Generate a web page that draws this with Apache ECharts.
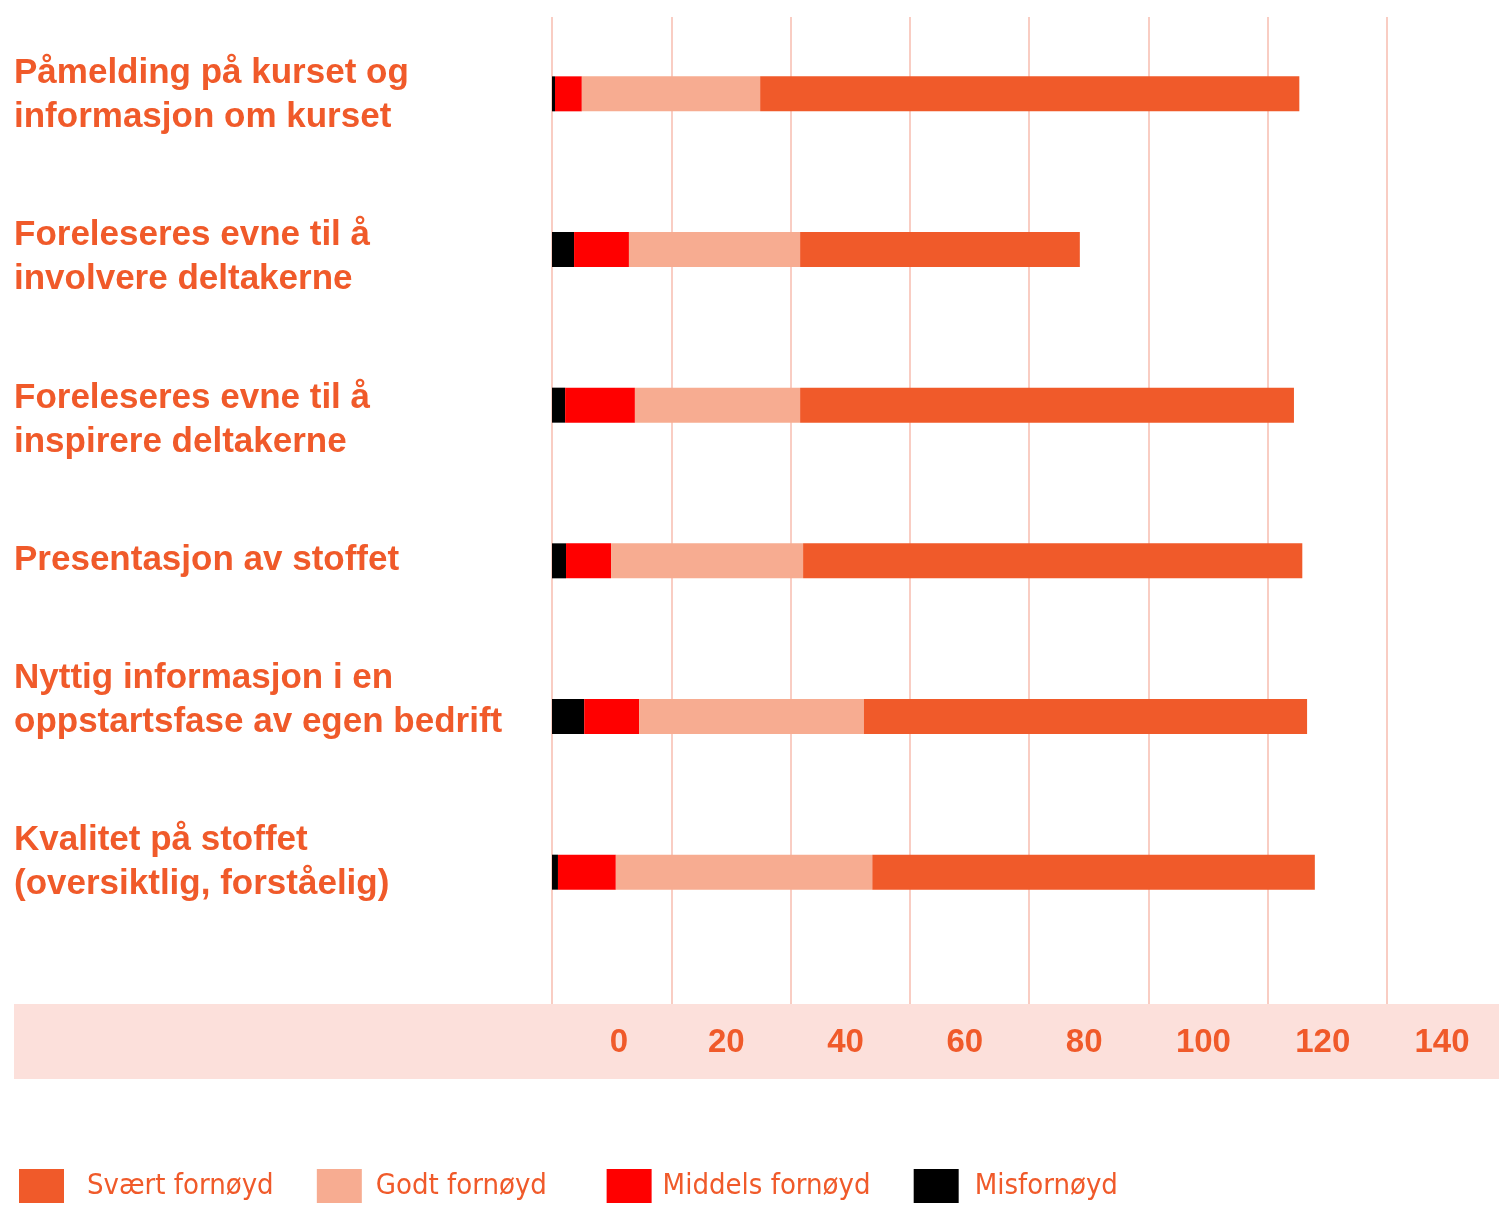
<!DOCTYPE html>
<html>
<head>
<meta charset="utf-8">
<script src="https://cdn.jsdelivr.net/npm/echarts@6/dist/echarts.min.js"></script>
<style>
  html, body { margin: 0; padding: 0; background: #ffffff; }
  #chart { width: 1499px; height: 1206px; }
</style>
</head>
<body>
<div id="chart"></div>
<script>
// questions, top to bottom
const categories = [
    'Påmelding på kurset og\ninformasjon om kurset',
    'Foreleseres evne til å\ninvolvere deltakerne',
    'Foreleseres evne til å\ninspirere deltakerne',
    'Presentasjon av stoffet',
    'Nyttig informasjon i en\noppstartsfase av egen bedrift',
    'Kvalitet på stoffet\n(oversiktlig, forståelig)'
];
const seriesNames = ['Misfornøyd', 'Middels fornøyd', 'Godt fornøyd', 'Svært fornøyd'];
const misfornoyd = [0.5, 3.7, 2.2, 2.35, 5.4, 1.0];
const middels = [4.5, 9.2, 11.7, 7.55, 9.2, 9.7];
const godt = [29.9, 28.7, 27.7, 32.2, 37.7, 43.0];
const svaert = [90.4, 46.9, 82.8, 83.7, 74.3, 74.2];
const ticks = [0, 20, 40, 60, 80, 100, 120, 140];
const legendOrder = ['Svært fornøyd', 'Godt fornøyd', 'Middels fornøyd', 'Misfornøyd'];

// layout tweaks only: label nudges (px), legend text padding / trailing spaces
const labelShift = [2, 8, 15, 0, -16, -10];
const legendPadL = [18, 9, 6, 11];
const legendTail = [4, 6, 4, 0];

const orange = '#f05a2a';
const colors = ['#000000', '#ff0000', '#f7ac91', '#f05a2a'];
const legendFont = "'Liberation Sans Narrow', 'DejaVu Sans Condensed', sans-serif";

const chart = echarts.init(document.getElementById('chart'));

const values = [misfornoyd, middels, godt, svaert];
const series = seriesNames.map((name, i) => ({
    name: name,
    type: 'bar',
    stack: 'total',
    xAxisIndex: 0,
    yAxisIndex: 0,
    barWidth: 35,
    itemStyle: {color: colors[i]},
    data: values[i]
}));

const yData = categories.map((c, i) => {
    const s = labelShift[i];
    return {
        value: c,
        textStyle: {
            align: 'left',
            verticalAlign: 'middle',
            rich: {},
            padding: s >= 0 ? [2 * s, 0, 0, 0] : [0, 0, -2 * s, 0]
        }
    };
});

const legendRich = {};
legendOrder.forEach((n, i) => {
    legendRich['w' + i] = {
        padding: [0, 0, 0, legendPadL[i]],
        fontSize: 29,
        color: orange,
        fontFamily: legendFont
    };
});

chart.setOption({
    animation: false,
    backgroundColor: '#ffffff',
    grid: [
        {left: 552, top: 16, width: 835, height: 934, outerBoundsMode: 'none'},
        {left: 552, top: 17, width: 835, height: 987, outerBoundsMode: 'none'}
    ],
    graphic: {
        elements: [{
            type: 'rect',
            z: -10,
            shape: {x: 14, y: 1004, width: 1485, height: 75},
            style: {fill: '#fce0db'}
        }]
    },
    xAxis: [
        {gridIndex: 0, type: 'value', min: ticks[0], max: ticks[ticks.length - 1], interval: 20, show: false},
        {
            gridIndex: 1, type: 'value', min: ticks[0], max: ticks[ticks.length - 1], interval: 20,
            axisLine: {show: false},
            axisTick: {show: false},
            splitLine: {show: true, lineStyle: {color: '#f9cdc3', width: 2}},
            axisLabel: {
                margin: 22,
                formatter: v => v === 0 ? '{z|0}' : '{n|' + v + '}',
                rich: {
                    n: {padding: [0, 0, 0, 110], fontSize: 33, fontWeight: 'bold', color: orange, fontFamily: 'Liberation Sans'},
                    z: {padding: [0, 0, 0, 134], fontSize: 33, fontWeight: 'bold', color: orange, fontFamily: 'Liberation Sans'}
                }
            }
        }
    ],
    yAxis: [
        {
            gridIndex: 0, type: 'category', inverse: true, data: yData,
            axisLine: {show: false},
            axisTick: {show: false},
            splitLine: {show: false},
            axisLabel: {
                align: 'left',
                margin: 538,
                fontSize: 35,
                fontWeight: 'bold',
                lineHeight: 44,
                color: orange,
                fontFamily: 'Liberation Sans'
            }
        },
        {gridIndex: 1, type: 'value', show: false}
    ],
    legend: {
        left: 19,
        top: 1169,
        padding: 0,
        icon: 'rect',
        itemWidth: 45,
        itemHeight: 34,
        itemGap: 10,
        data: legendOrder,
        formatter: name => {
            const i = legendOrder.indexOf(name);
            return '{w' + i + '|' + name + '\u00a0'.repeat(legendTail[i]) + '}';
        },
        textStyle: {
            fontSize: 29,
            color: orange,
            fontFamily: legendFont,
            rich: legendRich
        }
    },
    series: series
});
</script>
</body>
</html>
